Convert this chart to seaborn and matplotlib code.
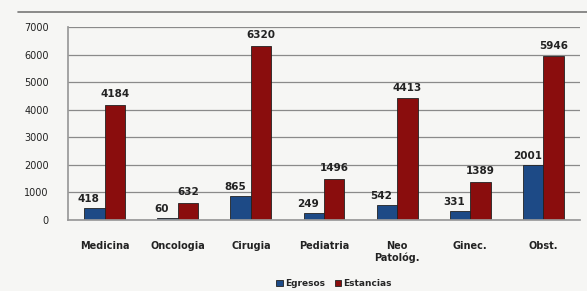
import matplotlib
matplotlib.use("Agg")
import matplotlib.pyplot as plt
import seaborn as sns
import pandas as pd
from matplotlib.lines import Line2D

categories = ["Medicina", "Oncologia", "Cirugia", "Pediatria", "Neo\nPatológ.", "Ginec.", "Obst."]
egresos = [418, 60, 865, 249, 542, 331, 2001]
estancias = [4184, 632, 6320, 1496, 4413, 1389, 5946]
series = ["Egresos", "Estancias"]
colors = ["#1d4a86", "#8a0d0d"]

df = pd.DataFrame({
    "cat": categories * 2,
    "serie": [series[0]] * len(categories) + [series[1]] * len(categories),
    "val": egresos + estancias,
})

sns.set_theme(style="white")
plt.rcParams["font.family"] = ["DejaVu Sans"]
bg = "#f6f6f4"
fig = plt.figure(figsize=(5.87, 2.91), dpi=100, facecolor=bg)
ax = fig.add_axes([0.116, 0.244, 0.872, 0.663], facecolor=bg)

sns.barplot(data=df, x="cat", y="val", hue="serie", palette=colors, saturation=1,
            width=0.56, edgecolor="#222222", linewidth=0.6, ax=ax, legend=True)

ax.set_ylim(0, 7000)
ax.set_yticks(range(0, 7001, 1000))
ax.yaxis.grid(True, color="#8a8a8a", linewidth=0.9)
ax.set_axisbelow(True)
for s in ["top", "right"]:
    ax.spines[s].set_visible(False)
ax.spines["left"].set_color("#999999")
ax.spines["bottom"].set_color("#999999")
ax.set_xlabel("")
ax.set_ylabel("")
ax.tick_params(axis="y", labelsize=7, pad=8, colors="#222222")
ax.tick_params(axis="x", labelsize=7, pad=9, colors="#222222")
for t in ax.get_xticklabels():
    t.set_fontweight("bold")
    t.set_verticalalignment("top")

for i, cont in enumerate(ax.containers):
    anns = ax.bar_label(cont, fmt="%d", padding=4, fontsize=7.5, fontweight="bold", color="#222222")
    if i == 0:
        for a in anns:
            a.xyann = (-4, 3)

leg = ax.legend(loc="center", bbox_to_anchor=(0.52, -0.33), ncol=2, frameon=False,
                fontsize=6.5, handlelength=0.7, handleheight=0.7, columnspacing=1.0,
                handletextpad=0.3, borderpad=0.1)
for t in leg.get_texts():
    t.set_fontweight("bold")

fig.add_artist(Line2D([0.03, 1.0], [1 - 12 / 291, 1 - 12 / 291], color="#777777", linewidth=1.2,
                      transform=fig.transFigure))

fig.savefig("out.png", dpi=100, facecolor=bg)
